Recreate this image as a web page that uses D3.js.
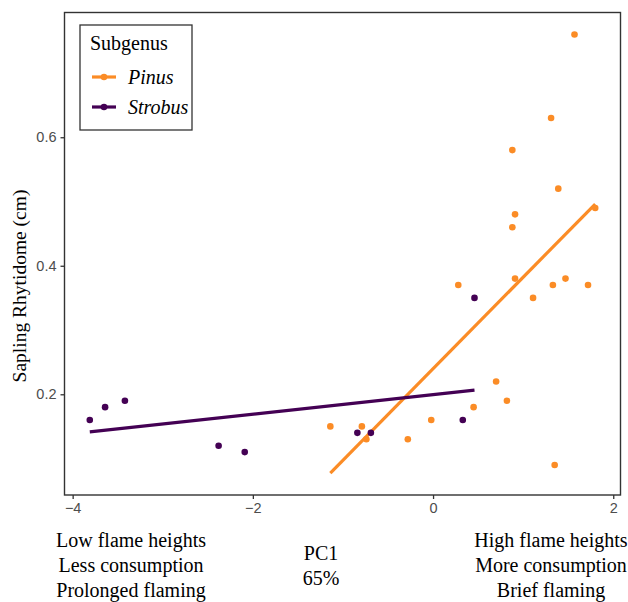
<!DOCTYPE html>
<html>
<head>
<meta charset="utf-8">
<script src="https://cdn.jsdelivr.net/npm/d3@7"></script>
<style>
  body { margin: 0; background: #fff; }
  svg { display: block; }
</style>
</head>
<body>
<div class="js-canvas"></div>
<script>
'use strict';

// data
const pinusX = [-1.14, -0.79, -0.74, -0.28, -0.02, 0.28, 0.45, 0.70, 0.82, 0.88, 0.88,
    0.91, 0.91, 1.11, 1.31, 1.33, 1.35, 1.39, 1.47, 1.57, 1.72, 1.80];
const pinusY = [0.15, 0.15, 0.13, 0.13, 0.16, 0.37, 0.18, 0.22, 0.19, 0.58, 0.46,
    0.48, 0.38, 0.35, 0.63, 0.37, 0.09, 0.52, 0.38, 0.76, 0.37, 0.49];
const strobusX = [-3.81, -3.64, -3.42, -2.38, -2.09, -0.84, -0.69, 0.33, 0.46];
const strobusY = [0.16, 0.18, 0.19, 0.12, 0.11, 0.14, 0.14, 0.16, 0.35];

const subgenera = ['Pinus', 'Strobus'];
const colors = ['#fb8c26', '#440154'];
const xTicks = [-4, -2, 0, 2];
const yTicks = [0.2, 0.4, 0.6];
const yTitle = 'Sapling Rhytidome (cm)';
const leftLabel = ['Low flame heights', 'Less consumption', 'Prolonged flaming'];
const midLabel = ['PC1', '65%'];
const rightLabel = ['High flame heights', 'More consumption', 'Brief flaming'];

const config = {
    width: 628,
    height: 602,
    margin: { top: 12.5, right: 7.5, bottom: 107, left: 64.5 }
};
const graphWidth = config.width - config.margin.left - config.margin.right;
const graphHeight = config.height - config.margin.top - config.margin.bottom;

const serif = '"Liberation Serif", "Times New Roman", serif';
const sans = '"Liberation Sans", Arial, sans-serif';

// groups + least squares fit (like geom_smooth(method = "lm"))
const groups = [
    { name: subgenera[0], color: colors[0], pts: pinusX.map((x, i) => ({ x, y: pinusY[i] })) },
    { name: subgenera[1], color: colors[1], pts: strobusX.map((x, i) => ({ x, y: strobusY[i] })) }
];
groups.forEach(g => {
    const mx = d3.mean(g.pts, d => d.x);
    const my = d3.mean(g.pts, d => d.y);
    const sxy = d3.sum(g.pts, d => (d.x - mx) * (d.y - my));
    const sxx = d3.sum(g.pts, d => (d.x - mx) ** 2);
    const b = sxy / sxx;
    const [x0, x1] = d3.extent(g.pts, d => d.x);
    g.fit = [{ x: x0, y: my + b * (x0 - mx) }, { x: x1, y: my + b * (x1 - mx) }];
});

// ggplot style 5% expansion
const expand = ([a, b]) => [a - (b - a) * 0.05, b + (b - a) * 0.05];
const allX = groups.flatMap(g => g.pts.map(d => d.x));
const allY = groups.flatMap(g => g.pts.map(d => d.y).concat(g.fit.map(d => d.y)));

const x = d3.scaleLinear().domain(expand(d3.extent(allX))).range([0, graphWidth]);
const y = d3.scaleLinear().domain(expand(d3.extent(allY))).range([graphHeight, 0]);

const svg = d3.select('.js-canvas')
    .append('svg')
    .attr('width', config.width)
    .attr('height', config.height);

const graph = svg.append('g')
    .attr('transform', `translate(${config.margin.left}, ${config.margin.top})`);

// axes
const xAxisGroup = graph.append('g')
    .attr('transform', `translate(0, ${graphHeight})`)
    .call(d3.axisBottom(x).tickValues(xTicks).tickSize(4).tickPadding(4)
        .tickFormat(d => d < 0 ? '\u2212' + Math.abs(d) : d));
const yAxisGroup = graph.append('g')
    .call(d3.axisLeft(y).tickValues(yTicks).tickSize(4).tickPadding(4).tickFormat(d3.format('.1f')));

[xAxisGroup, yAxisGroup].forEach(g => {
    g.select('.domain').remove();
    g.selectAll('line').attr('stroke', '#333').attr('stroke-width', 1.3);
    g.selectAll('text')
        .attr('fill', '#4d4d4d')
        .style('font-family', sans)
        .style('font-size', '14.5px');
});

// panel border
graph.append('rect')
    .attr('width', graphWidth)
    .attr('height', graphHeight)
    .attr('fill', 'none')
    .attr('stroke', '#333')
    .attr('stroke-width', 1.4);

// fit lines
const line = d3.line().x(d => x(d.x)).y(d => y(d.y));
graph.selectAll('path.fit')
    .data(groups)
    .enter().append('path')
    .attr('class', 'fit')
    .attr('d', d => line(d.fit))
    .attr('fill', 'none')
    .attr('stroke', d => d.color)
    .attr('stroke-width', 3.2);

// points
groups.forEach(g => {
    graph.selectAll(null)
        .data(g.pts)
        .enter().append('circle')
        .attr('cx', d => x(d.x))
        .attr('cy', d => y(d.y))
        .attr('r', 3.3)
        .attr('fill', g.color);
});

// y title
svg.append('text')
    .attr('transform', 'translate(26, 286) rotate(-90)')
    .attr('text-anchor', 'middle')
    .style('font-family', serif)
    .style('font-size', '19.5px')
    .attr('fill', '#000')
    .text(yTitle);

// bottom labels
const addBlock = (lines, cx, y0) => {
    svg.append('g').selectAll('text')
        .data(lines)
        .enter().append('text')
        .attr('x', cx)
        .attr('y', (d, i) => y0 + i * 25)
        .attr('text-anchor', 'middle')
        .style('font-family', serif)
        .style('font-size', '20px')
        .attr('fill', '#000')
        .text(d => d);
};
addBlock(leftLabel, 131, 547);
addBlock(midLabel, 321, 559.5);
addBlock(rightLabel, 551, 547);

// legend
const legend = svg.append('g');
legend.append('rect')
    .attr('x', 80).attr('y', 25)
    .attr('width', 112).attr('height', 105)
    .attr('fill', '#fff')
    .attr('stroke', '#333')
    .attr('stroke-width', 1.3);
legend.append('text')
    .attr('x', 90).attr('y', 50)
    .style('font-family', serif)
    .style('font-size', '20px')
    .text('Subgenus');
const keys = legend.selectAll('g.key')
    .data(groups)
    .enter().append('g')
    .attr('class', 'key')
    .attr('transform', (d, i) => `translate(0, ${77 + i * 30})`);
keys.append('line')
    .attr('x1', 92).attr('x2', 116)
    .attr('stroke', d => d.color)
    .attr('stroke-width', 3.2);
keys.append('circle')
    .attr('cx', 104).attr('r', 3.3)
    .attr('fill', d => d.color);
keys.append('text')
    .attr('x', 128).attr('y', 6.5)
    .style('font-family', serif)
    .style('font-size', '20px')
    .style('font-style', 'italic')
    .text(d => d.name);
</script>
</body>
</html>
